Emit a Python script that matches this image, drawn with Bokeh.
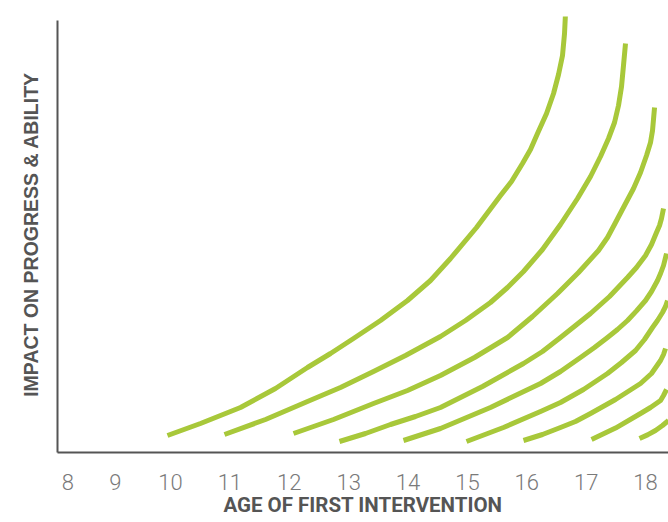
from bokeh.plotting import figure
from bokeh.models import Range1d, FixedTicker
from bokeh.embed import file_html
from bokeh.resources import INLINE

# Tick labels (age) and where they sit on the axis
tick_labels = ["8", "9", "10", "11", "12", "13", "14", "15", "16", "17", "18"]
tick_positions = [8.27, 9.07, 10, 11, 12, 13, 14, 15, 16, 17, 18]

x_title = "AGE OF FIRST INTERVENTION"
y_title = "IMPACT ON PROGRESS & ABILITY"

# One curve per age of first intervention (x = age, y = impact in arbitrary units)
age_10_x = [9.949, 10.505, 11.179, 11.768, 12.307, 12.695, 13.082, 13.537, 13.992, 14.379,
            14.716, 15.154, 15.558, 15.743, 15.928, 16.063, 16.181, 16.333, 16.451, 16.535,
            16.602, 16.636, 16.653]
age_10_y = [4.25, 7.25, 11.25, 16.0, 21.25, 24.75, 28.5, 33.0, 38.0, 43.0,
            48.5, 56.25, 64.25, 67.75, 72.25, 75.75, 79.75, 84.75, 89.75, 94.5,
            99.25, 104.75, 110.0]

age_11_x = [10.909, 11.600, 12.307, 12.863, 13.419, 13.958, 14.547, 14.968, 15.389, 15.676,
            15.945, 16.265, 16.568, 16.855, 17.074, 17.242, 17.377, 17.478, 17.545, 17.596,
            17.629, 17.663]
age_11_y = [4.5, 8.25, 12.75, 16.25, 20.25, 24.25, 29.0, 33.0, 37.5, 41.25,
            45.25, 50.75, 57.0, 63.5, 69.0, 74.0, 78.5, 82.5, 86.75, 91.5,
            96.75, 102.25]

age_12_x = [12.072, 12.745, 13.419, 13.992, 14.547, 15.120, 15.676, 16.097, 16.518, 16.872,
            17.208, 17.360, 17.495, 17.646, 17.798, 17.916, 18.017, 18.084, 18.118, 18.152]
age_12_y = [4.75, 8.25, 12.25, 15.5, 19.25, 23.75, 28.75, 34.0, 39.75, 45.0,
            50.5, 53.75, 57.5, 61.75, 66.0, 70.0, 74.25, 77.5, 80.5, 86.25]

age_13_x = [12.846, 13.284, 13.705, 14.126, 14.547, 15.255, 15.945, 16.265, 16.568, 16.821,
            17.074, 17.394, 17.697, 17.848, 18.000, 18.101, 18.185, 18.236, 18.269, 18.303]
age_13_y = [2.75, 4.75, 7.0, 9.0, 11.25, 16.5, 22.25, 25.25, 28.75, 31.75,
            34.75, 39.0, 43.75, 46.25, 49.25, 52.0, 55.0, 56.75, 58.5, 61.0]

age_14_x = [13.924, 14.547, 15.389, 16.232, 16.568, 16.905, 17.141, 17.360, 17.528, 17.697,
            17.848, 18.000, 18.101, 18.202, 18.253, 18.303, 18.354]
age_14_y = [3.0, 6.0, 11.25, 17.25, 20.25, 23.75, 26.25, 28.75, 30.75, 33.0,
            35.4, 38.0, 40.25, 43.0, 44.75, 46.75, 49.75]

age_15_x = [14.985, 15.608, 16.232, 16.568, 16.956, 17.360, 17.596, 17.832, 17.983, 18.118,
            18.202, 18.286, 18.337, 18.371]
age_15_y = [2.75, 6.25, 10.25, 12.5, 15.75, 19.75, 22.5, 25.5, 28.25, 31.25,
            33.0, 35.0, 36.5, 38.0]

age_16_x = [15.945, 16.265, 16.568, 16.821, 17.074, 17.495, 17.916, 18.101, 18.253, 18.303, 18.337]
age_16_y = [3.0, 4.5, 6.25, 7.75, 9.75, 13.25, 17.25, 19.75, 23.0, 24.5, 26.0]

age_17_x = [17.091, 17.495, 17.916, 18.084, 18.253, 18.303, 18.354]
age_17_y = [3.25, 6.1, 9.75, 11.25, 13.0, 14.25, 15.75]

age_18_x = [17.899, 18.034, 18.168, 18.286, 18.387]
age_18_y = [3.5, 4.4, 5.5, 6.75, 8.0]

curves = [
    (age_10_x, age_10_y), (age_11_x, age_11_y), (age_12_x, age_12_y),
    (age_13_x, age_13_y), (age_14_x, age_14_y), (age_15_x, age_15_y),
    (age_16_x, age_16_y), (age_17_x, age_17_y), (age_18_x, age_18_y),
]

GREEN = "#a8c83a"
AXIS = "#555555"

p = figure(width=668, height=522, output_backend="svg", toolbar_location=None,
           x_range=Range1d(8.097, 18.387), y_range=Range1d(0, 109),
           min_border_left=57, min_border_right=0, min_border_top=16, min_border_bottom=70)
p.outline_line_color = None
p.grid.visible = False
p.background_fill_color = "white"
p.border_fill_color = "white"

for xs, ys in curves:
    p.line(xs, ys, line_color=GREEN, line_width=5, line_cap="butt", line_join="round")

# x axis
xa = p.xaxis[0]
xa.ticker = FixedTicker(ticks=tick_positions)
xa.major_label_overrides = {t: l for t, l in zip(tick_positions, tick_labels)}
xa.major_tick_line_color = None
xa.minor_tick_line_color = None
xa.major_tick_out = 0
xa.major_tick_in = 0
xa.axis_line_color = AXIS
xa.axis_line_width = 2
xa.major_label_standoff = 21
xa.major_label_text_font = "'Roboto Light', Roboto, sans-serif"
xa.major_label_text_font_size = "22px"
xa.major_label_text_color = "#7a7a7a"
xa.axis_label = x_title
xa.axis_label_text_font = "Roboto"
xa.axis_label_text_font_style = "bold"
xa.axis_label_text_font_size = "20.5px"
xa.axis_label_text_color = AXIS
xa.axis_label_standoff = 0

# y axis
ya = p.yaxis[0]
ya.ticker = FixedTicker(ticks=[])
ya.bounds = (0, 108)
ya.major_tick_line_color = None
ya.minor_tick_line_color = None
ya.major_tick_out = 0
ya.axis_line_color = AXIS
ya.axis_line_width = 2
ya.axis_label = y_title
ya.axis_label_text_font = "'Liberation Sans', Arial, sans-serif"
ya.axis_label_text_font_style = "bold"
ya.axis_label_text_font_size = "19.5px"
ya.axis_label_text_color = AXIS
ya.axis_label_standoff = 16

open("out.html", "w").write(file_html(p, INLINE))
